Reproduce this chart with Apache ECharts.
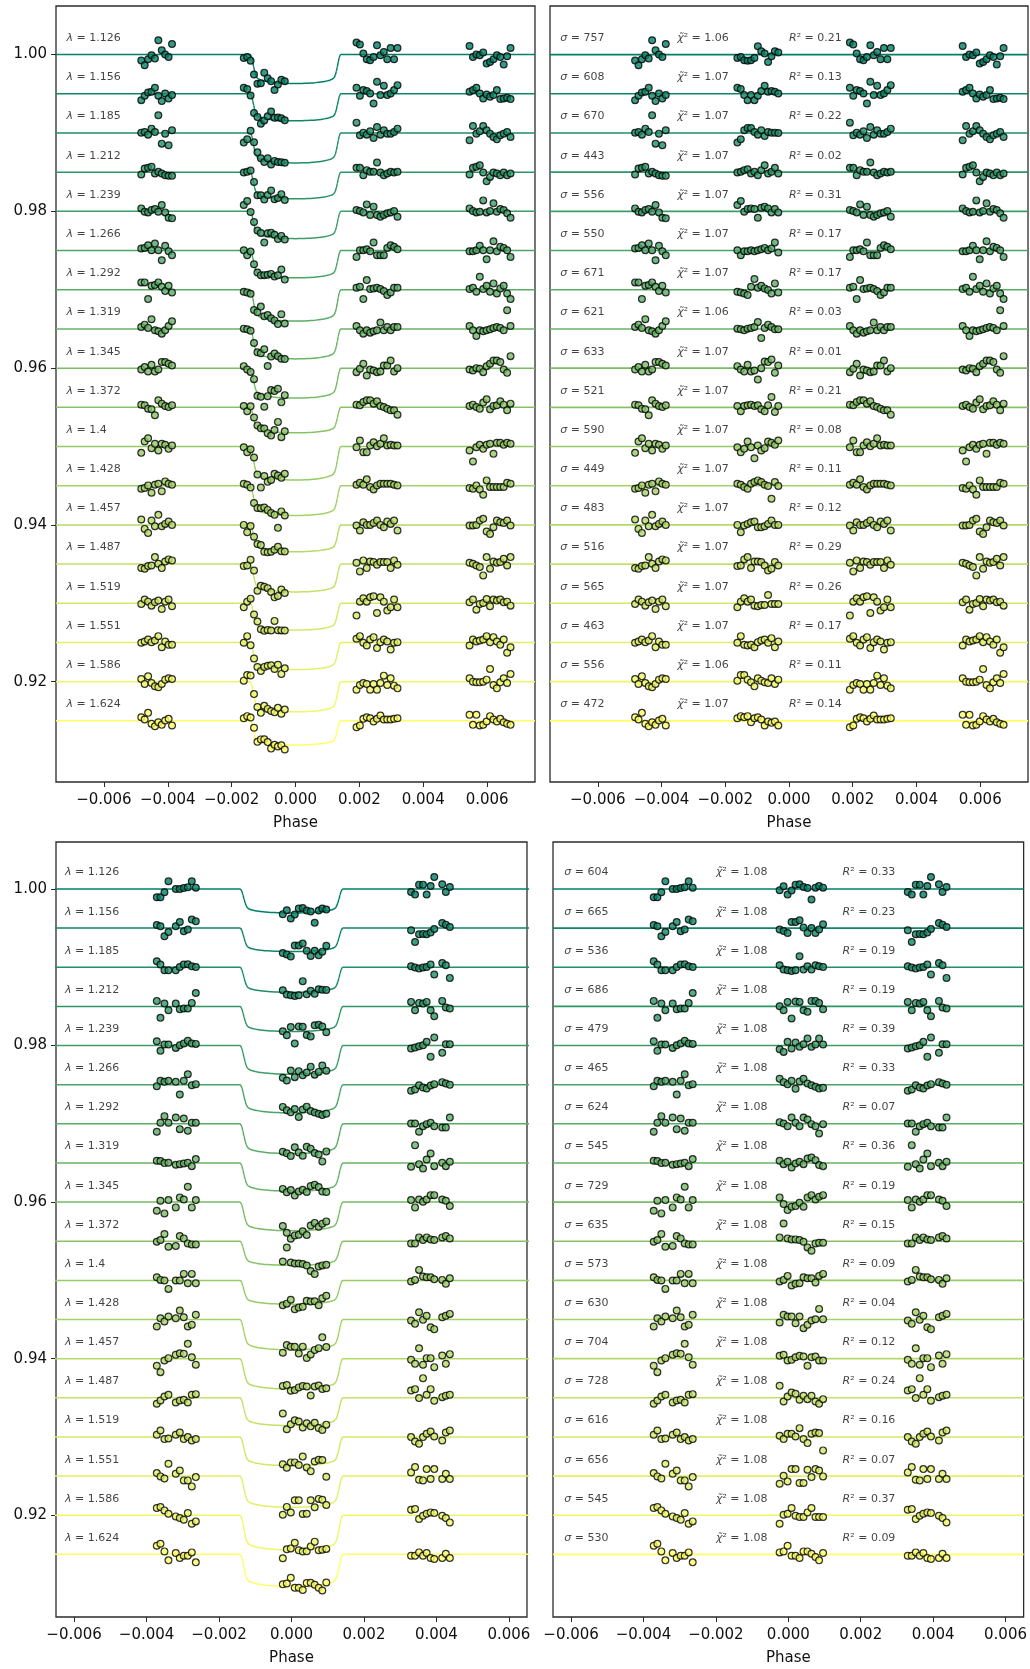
<!DOCTYPE html>
<html>
<head>
<meta charset="utf-8">
<script src="https://cdn.jsdelivr.net/npm/echarts@6/dist/echarts.min.js"></script>
<style>
html, body { margin: 0; padding: 0; background: #ffffff; }
#chart { width: 1030px; height: 1669px; }
</style>
</head>
<body>
<div id="chart"></div>
<script>
// ---- spectroscopic channels ----
const wavelengths = ['1.126', '1.156', '1.185', '1.212', '1.239', '1.266', '1.292', '1.319', '1.345',
  '1.372', '1.4', '1.428', '1.457', '1.487', '1.519', '1.551', '1.586', '1.624'];
const rowOffsets = [1.000, 0.995, 0.990, 0.985, 0.980, 0.975, 0.970, 0.965, 0.960,
  0.955, 0.950, 0.945, 0.940, 0.935, 0.930, 0.925, 0.920, 0.915];

// ---- visit 1 fit statistics ----
const sigma1 = [757, 608, 670, 443, 556, 550, 671, 621, 633, 521, 590, 449, 483, 516, 565, 463, 556, 472];
const chi1 = ['1.06', '1.07', '1.07', '1.07', '1.07', '1.07', '1.07', '1.06', '1.07', '1.07', '1.07', '1.07',
  '1.07', '1.07', '1.07', '1.07', '1.06', '1.07'];
const r2v1 = ['0.21', '0.13', '0.22', '0.02', '0.31', '0.17', '0.17', '0.03', '0.01', '0.21', '0.08', '0.11',
  '0.12', '0.29', '0.26', '0.17', '0.11', '0.14'];
// transit depth of each channel (visit 1)
const depth1 = [0.00369, 0.00344, 0.00382, 0.00340, 0.00348, 0.00348, 0.00400, 0.00382, 0.00382,
  0.00325, 0.00427, 0.00380, 0.00342, 0.00355, 0.00342, 0.00346, 0.00385, 0.00308];

// ---- visit 2 fit statistics ----
const sigma2 = [604, 665, 536, 686, 479, 465, 624, 545, 729, 635, 573, 630, 704, 728, 616, 656, 545, 530];
const chi2 = ['1.08', '1.08', '1.08', '1.08', '1.08', '1.08', '1.08', '1.08', '1.08', '1.08', '1.08', '1.08',
  '1.08', '1.08', '1.08', '1.08', '1.08', '1.08'];
const r2v2 = ['0.33', '0.23', '0.19', '0.19', '0.39', '0.33', '0.07', '0.36', '0.19', '0.15', '0.09', '0.04',
  '0.12', '0.24', '0.16', '0.07', '0.37', '0.09'];
const depth2 = [0.00306, 0.00300, 0.00320, 0.00320, 0.00366, 0.00360, 0.00380, 0.00360, 0.00366,
  0.00308, 0.00304, 0.00387, 0.00387, 0.00355, 0.00366, 0.00398, 0.00443, 0.00410];

// ---- normalised transit profile (fraction of depth vs phase) ----
const modelPhase = [-0.0075, -0.00142, -0.0014, -0.00137, -0.00134, -0.00131, -0.00128, -0.00125, -0.00122,
  -0.00118, -0.00112, -0.00104, -0.00095, -0.00085, -0.00072, -0.00056, -0.00038, -0.0002, 0,
  0.0002, 0.00038, 0.00056, 0.00072, 0.00085, 0.00095, 0.00104, 0.00112, 0.00118, 0.00122,
  0.00125, 0.00128, 0.00131, 0.00134, 0.00137, 0.0014, 0.00142, 0.0075];
const modelShape = [0, 0, 0.02, 0.1, 0.25, 0.42, 0.58, 0.7, 0.78, 0.83, 0.865, 0.895, 0.92, 0.94, 0.96,
  0.978, 0.99, 0.998, 1, 0.998, 0.99, 0.978, 0.96, 0.94, 0.92, 0.895, 0.865, 0.83, 0.78, 0.7, 0.58,
  0.42, 0.25, 0.1, 0.02, 0, 0];

// ---- exposure phases, visit 1 (four orbits) ----
const phase1A = [-0.00483, -0.004723, -0.004616, -0.004509, -0.004402, -0.004295, -0.004188, -0.004081, -0.003974, -0.003867];
const phase1B = [-0.00162, -0.001513, -0.001406, -0.001299, -0.001192, -0.001085, -0.000978, -0.000871, -0.000764,
  -0.000657, -0.00055, -0.000443, -0.000336];
const phase1C = [0.00191, 0.002017, 0.002124, 0.002231, 0.002338, 0.002445, 0.002552, 0.002659, 0.002766,
  0.002873, 0.00298, 0.003087, 0.003194];
const phase1D = [0.00545, 0.005557, 0.005664, 0.005771, 0.005878, 0.005985, 0.006092, 0.006199, 0.006306,
  0.006413, 0.00652, 0.006627, 0.006734];

// ---- exposure phases, visit 2 (three orbits) ----
const phase2A = [-0.003718, -0.003617, -0.003507, -0.003396, -0.003194, -0.003083, -0.002973, -0.002862, -0.002752, -0.002641];
const phase2B = [-0.00024, -0.00013, -0.00002, 0.00009, 0.0002, 0.00031, 0.00042, 0.00053, 0.00064, 0.00075, 0.00085, 0.00096];
const phase2C = [0.0033, 0.00341, 0.00352, 0.00363, 0.00373, 0.00384, 0.00394, 0.00416, 0.00426, 0.00437];

// ---- residuals in ppm, visit 1 ----
const res1A = [
  [-765, -1360, -600, -85, -510, 1830, 550, 0, -300, 1360],
  [-810, -255, 170, 255, 765, -255, -935, 40, -600, -170],
  [40, 130, -210, 550, 130, 2250, -1360, -85, -1570, 340],
  [-300, 470, 550, 680, -170, 40, -170, -380, -470, -470],
  [380, -40, -130, 170, 300, -40, 810, -130, -810, -890],
  [255, 340, 680, 40, 890, 40, -1230, 600, -85, -600],
  [940, 940, -1190, 510, 600, 940, 380, -170, 510, -340],
  [255, 550, 130, 1230, -170, -300, -600, -170, 380, 980],
  [-170, 130, -425, 425, -425, -170, 770, 770, 550, 340],
  [340, 255, -170, -255, -1020, 890, 470, 170, 40, 255],
  [-810, 640, 1060, -210, 340, -510, 340, 210, -300, 130],
  [-380, -300, 40, -890, 130, 255, -720, 550, 255, 130],
  [680, -510, -1020, 550, -170, 1280, -170, 130, 425, 0],
  [-510, -600, -255, -170, 890, 40, -510, 340, 600, 470],
  [-85, 470, 210, -300, 130, 340, -720, 210, 470, -380],
  [-40, 130, 380, 40, 255, 810, -600, 130, -300, -300],
  [340, -300, 680, -170, -600, -720, -300, 255, 425, 340],
  [470, 170, 1020, -380, -680, -170, -510, 40, 255, -600]
];
const res1B = [
  [-430, -300, -720, -770, -720, -430, 1060, 430, 130, -940, -210, 430, 260],
  [770, 600, -170, -810, -170, -810, -255, 340, 1020, 255, 340, 255, 40],
  [-1230, -810, 340, 640, 640, 130, -210, 340, -380, 130, 40, 40, 0],
  [-40, 40, 255, 380, -170, 40, -380, 255, 890, -170, 40, 550, -170],
  [810, 1320, -40, 300, 380, 300, -810, 470, 600, 380, -130, 300, -130],
  [40, -600, -85, -85, 40, -85, 40, 170, 340, 40, 255, 1020, -255],
  [-255, -340, -470, -680, 380, 1360, 255, 510, 170, -40, -470, 810, -340],
  [40, -40, -170, 40, 130, 255, 890, -1150, 130, 550, 255, -40, -40],
  [255, -170, -425, 425, -425, -300, -1445, 0, 850, 770, 1100, -600, 340],
  [170, -510, 170, 255, 340, 170, 255, -255, -510, 255, 1320, -600, 170],
  [-85, -720, -300, 640, -85, -1490, 130, -510, -210, 640, 470, 210, 770],
  [255, 130, -170, -380, 255, 470, 680, 470, 130, -40, -1660, 470, -40],
  [0, -935, -85, 130, 340, 425, -300, -300, -170, 130, 550, 0, 0],
  [-255, -170, 600, 890, -510, 340, 340, 255, -170, -810, -600, 255, -170],
  [-510, 210, 640, 210, 470, -300, -380, -210, -210, 1060, -85, -85, -85],
  [-40, 810, -300, -380, -300, -600, 40, 255, 380, -40, 550, -600, 130],
  [130, 850, 850, 255, -85, -600, 425, 130, -85, -170, 425, -300, 255],
  [340, 600, 470, 600, -170, 340, 470, 170, -600, -85, -255, -85, -600]
];
const res1C = [
  [1530, 1280, 130, -600, -720, -300, 1190, -85, 340, -600, 850, -600, 850],
  [770, -255, 470, 340, 40, -1230, 1530, -170, 1020, -170, 40, 470, 1100],
  [1320, -300, 40, -210, 210, -640, 770, -210, 340, -85, -85, 130, 550],
  [550, 550, -380, 255, 40, 40, 1230, -40, -380, -170, 40, -40, 40],
  [170, 40, -130, 890, -470, 600, -470, -680, -470, -255, -130, 40, -680],
  [-810, 40, 40, 170, -85, 1020, -600, -600, -600, 340, 680, 470, 170],
  [255, 380, -1190, 1230, 85, 170, 255, 85, -170, -680, -340, 255, 255],
  [380, -170, -600, -170, -470, -300, -170, 810, -170, 255, -170, 255, 255],
  [-510, -85, 550, -935, -170, -300, -510, -425, 340, 340, 980, -425, 0],
  [340, 255, 680, 890, 890, 470, 770, 170, 40, -170, -380, -380, -935],
  [-85, 770, -720, -720, 130, 550, 40, 340, 1060, 130, 210, 130, 130],
  [130, 380, 130, 810, -170, -470, 40, 255, 255, 255, 255, 130, 40],
  [-85, -720, 340, 0, 0, 255, 550, 0, -300, 425, 130, 550, -720],
  [170, -935, 470, -510, 340, 255, -85, 255, 255, 255, -510, 470, -85],
  [-1570, 210, 640, 210, 770, 890, -1230, 770, 210, -935, -510, 470, -510],
  [470, 810, -40, -380, 380, 680, -720, 40, 380, 130, -890, -40, 40],
  [-1020, -425, -170, -300, -1020, -300, -1020, -170, 770, -425, 425, -510, -850],
  [-810, -600, 255, 470, 340, -85, 255, 680, 170, 170, 170, 255, 340]
];
const res1D = [
  [1100, -300, 0, -85, 255, -1150, -935, -600, -85, -300, -1275, -210, 850],
  [255, 470, 770, 40, -600, -85, -380, -170, 470, -680, -600, -510, -680],
  [-935, 890, -85, 210, 890, 340, -85, -510, -810, -300, -85, 130, -510],
  [-300, 550, 680, 890, -40, -1150, -600, -40, -170, -380, -40, -380, -170],
  [380, 40, -130, -40, 1400, -130, 40, 1020, -40, 300, 170, -255, -810],
  [-85, -85, 40, 600, 40, -1100, 40, 1190, -85, 470, 340, 40, -810],
  [85, 255, -255, 1660, 85, 510, -255, 810, -470, 170, 510, -470, -1190],
  [380, -170, -890, -170, -300, -170, -40, 130, 255, 130, -170, 2380, 380],
  [-170, -300, 0, -85, -510, 255, 550, 980, 980, 770, -170, -600, 1530],
  [170, 340, 40, -170, 600, 1020, -255, 170, 255, 770, 340, -380, 470],
  [-510, -1910, -85, 210, -300, 210, 340, -935, 470, 470, 210, 470, 340],
  [-300, -380, 40, -470, -1150, 680, -170, -170, -170, -170, -170, 380, 255],
  [-85, -85, 0, 550, 770, -850, -1150, -300, 550, 340, 255, 550, -85],
  [170, 40, -170, -380, -1445, 890, -600, 340, 170, 255, 680, -170, 890],
  [130, 470, -810, -85, 40, 550, -380, 470, 340, 470, 130, 210, -300],
  [-380, 380, 130, 255, 380, 810, 40, 680, 130, -300, 380, -1320, -600],
  [425, 0, -85, -85, 0, 255, 1615, -425, -850, -85, 425, -170, 980],
  [770, -510, 770, -600, -510, -85, 600, 170, -85, 255, -170, -380, -510]
];

// ---- residuals in ppm, visit 2 ----
const res2A = [
  [-1060, -1060, -425, 980, 0, 0, 130, 210, 980, 170],
  [400, 235, -1040, -490, 235, 785, -400, -190, 1085, 870],
  [765, 340, -380, -380, -380, 40, 340, 380, 130, 40],
  [700, -1465, 360, -490, 360, -360, -275, -275, 445, 1720],
  [550, -680, 130, 130, -300, 40, 255, 600, 255, 210],
  [-190, 490, 360, 490, 360, -1255, 490, 1340, -65, 65],
  [-1020, 130, 980, 130, 810, -680, 680, -890, 130, 130],
  [275, 235, -20, 20, -235, -150, -65, 20, -405, 490],
  [-1105, 170, -1445, 255, -680, 600, 340, 1955, -680, 255],
  [-65, 150, 915, -700, -615, 660, 360, -275, -405, -405],
  [405, 65, -20, -1085, -20, -20, 830, -360, 830, -360],
  [-890, 170, -255, 380, 170, 1150, 300, -890, -680, 600],
  [-915, -1720, -235, 65, 490, 700, 615, 1890, 190, -785],
  [-765, -340, 170, 380, -600, -340, -255, -600, 380, 470],
  [275, 830, -275, -190, 275, 575, -275, -20, -445, -275],
  [380, -40, -300, 1570, 300, 720, -550, -550, -1320, -130],
  [915, 1040, 615, 190, -150, -360, -575, 275, -1085, -785],
  [1105, 1360, 380, -765, 170, -470, -170, -170, 255, -1020]
];
const res2B = [
  [-170, 340, -720, -210, 550, 600, 255, 130, -1360, 170, 380, 170],
  [-190, -360, -615, 785, 785, 1000, 65, -615, 20, -615, -190, 490],
  [255, -300, -380, -470, -380, 1400, -300, 130, -300, 255, 130, 40],
  [20, -490, 575, -1550, 615, 575, -490, -700, 700, 700, 445, -360],
  [-470, -810, 470, -380, 380, -170, 170, 890, -170, 130, 890, 130],
  [745, 320, 65, 490, -530, 405, 745, 150, -65, -275, -490, -405],
  [210, 40, -300, 810, 130, -300, 810, 550, -40, -300, -1230, -40],
  [275, -150, 150, -575, -65, 150, -150, 575, 700, 360, -275, -405],
  [600, -255, -1020, -600, -510, -85, -600, 600, 890, 340, 680, 890],
  [490, 2275, 360, 235, 235, 150, -65, -785, -1210, -275, -190, -190],
  [-150, 65, 575, -660, -445, -360, 405, 275, 275, -275, 575, 830],
  [-380, 600, 380, 380, -470, 380, -1100, -680, -130, 40, 1360, 40],
  [360, 490, -235, -150, 190, 360, 275, -915, 190, 275, -235, -235],
  [1530, -470, 170, 680, 510, -255, 255, -170, 255, -470, -765, -170],
  [150, -275, 405, 405, 65, 1125, -275, -785, 405, 575, 490, -1720],
  [-980, 40, -680, 890, 890, -890, -890, 810, -130, 890, 720, -40],
  [-1085, 65, 190, 915, -65, -235, -235, 360, 915, -235, -235, -235],
  [255, 380, 1105, -170, -170, -470, 380, 380, 85, -340, -765, 170]
];
const res2C = [
  [-380, -720, 550, 550, -720, 380, 1530, 600, -380, 255],
  [-275, -1765, -785, -740, -785, -575, -105, 660, 445, 150],
  [130, -40, -170, -40, 40, 340, -935, 550, 255, -1360],
  [575, -490, 445, 360, 575, -490, -1255, 700, -150, -275],
  [-380, -255, -85, 40, 470, -1445, 1020, -935, 170, 170],
  [-785, -615, -65, -360, -490, -105, 65, 320, 150, -20],
  [40, 40, -1020, -300, -40, 130, -300, -470, -470, 810],
  [-490, 2275, -150, -700, 445, 1210, -405, 20, -405, 150],
  [255, -680, 340, 40, 340, 890, 890, 340, 170, -510],
  [-275, -275, 490, 150, 490, 235, 150, 490, 660, 360],
  [-150, 65, 1340, 490, 405, 405, 150, 65, -445, 275],
  [-130, -550, 935, -40, 470, -980, -1230, 300, 470, 720],
  [-150, -660, 1340, -785, 65, 65, -1085, 405, -660, 575],
  [935, 1105, -40, 2510, 380, 1105, -380, 85, 255, 380],
  [-20, -575, -870, -20, 405, 700, 65, -445, 575, 830],
  [470, 1150, -470, -550, 890, -380, 890, -380, 300, -380],
  [700, 785, -490, -65, 190, 360, 275, -65, -360, -915],
  [-170, -170, 255, -170, 170, -470, -600, -470, 85, -470]
];

// ---- axis ticks ----
const phaseTicks = [-0.006, -0.004, -0.002, 0.000, 0.002, 0.004, 0.006];
const fluxTicks = [0.92, 0.94, 0.96, 0.98, 1.00];

const FONT = 'DejaVu Sans';
const N = wavelengths.length;

// "summer" colour ramp, dark green at the bluest channel to yellow at the reddest
function rowColor(i) {
  const t = i / (N - 1);
  const r = Math.round(255 * t);
  const g = Math.round(255 * (0.5 + 0.5 * t));
  return 'rgb(' + r + ',' + g + ',102)';
}

// transit profile evaluated at a given phase
function profileAt(p) {
  for (let k = 0; k < modelPhase.length - 1; k++) {
    if (p >= modelPhase[k] && p <= modelPhase[k + 1]) {
      const f = (p - modelPhase[k]) / (modelPhase[k + 1] - modelPhase[k]);
      return modelShape[k] + f * (modelShape[k + 1] - modelShape[k]);
    }
  }
  return 0;
}

function phaseLabel(v) {
  const s = Math.abs(v).toFixed(3);
  return v < -1e-9 ? '\u2212' + s : s;
}

const grids = [
  { left: 56, top: 6, width: 479, height: 776 },
  { left: 550, top: 6, width: 478, height: 776 },
  { left: 56, top: 842, width: 471, height: 775 },
  { left: 553, top: 842, width: 471, height: 775 }
].map(g => Object.assign(g, { show: true, borderColor: '#2b2b2b', borderWidth: 1.3, backgroundColor: '#fff' }));

const xRange = [[-0.0075, 0.0075], [-0.0075, 0.0075], [-0.0065, 0.0065], [-0.0065, 0.0065]];
const yRange = [[0.9072, 1.0062], [0.9072, 1.0062], [0.9070, 1.0060], [0.9070, 1.0060]];

const xAxes = xRange.map((r, gi) => ({
  gridIndex: gi, type: 'value', min: r[0], max: r[1], position: 'bottom',
  axisLine: { show: false, onZero: false }, splitLine: { show: false },
  axisTick: { show: true, length: 5, inside: false, customValues: phaseTicks, lineStyle: { color: '#2b2b2b', width: 1 } },
  axisLabel: { customValues: phaseTicks, formatter: phaseLabel, fontSize: 15, fontFamily: FONT, color: '#111', margin: 11 },
  name: 'Phase', nameLocation: 'middle', nameGap: 34,
  nameTextStyle: { fontSize: 15, fontFamily: FONT, color: '#111' }
}));

const yAxes = yRange.map((r, gi) => {
  const left = (gi % 2 === 0);
  return {
    gridIndex: gi, type: 'value', min: r[0], max: r[1], position: 'left',
    axisLine: { show: false, onZero: false }, splitLine: { show: false },
    axisTick: { show: left, length: 5, customValues: fluxTicks, lineStyle: { color: '#2b2b2b', width: 1 } },
    axisLabel: { show: left, customValues: fluxTicks, formatter: v => v.toFixed(2), fontSize: 15, fontFamily: FONT, color: '#111', margin: 9 }
  };
});

const series = [];
const richStyles = {
  it: { fontStyle: 'italic', fontSize: 11, fontFamily: FONT, color: '#111' }
};

function addLabels(gi, items) {
  series.push({
    type: 'scatter', xAxisIndex: gi, yAxisIndex: gi, symbolSize: 0, silent: true, z: 5,
    data: items,
    label: {
      show: true, position: 'right', distance: 0,
      fontSize: 11, fontFamily: FONT, color: '#111',
      formatter: p => p.data[2], rich: richStyles
    }
  });
}

// one visit: light curves on the left grid, residuals on the right grid
function addVisit(gLeft, gRight, depth, phases, residuals, xmin, xmax, labelX, sigma, chi, r2) {
  const leftLabels = [], rightLabels = [];
  for (let i = 0; i < N; i++) {
    const off = rowOffsets[i];
    const col = rowColor(i);
    // fitted transit model
    series.push({
      type: 'line', xAxisIndex: gLeft, yAxisIndex: gLeft, showSymbol: false, silent: true, z: 2,
      smooth: 0.3, smoothMonotone: 'x',
      lineStyle: { color: col, width: 1.5 },
      data: modelPhase.map((p, k) => [p, off - depth[i] * modelShape[k]])
    });
    // observed points = model + residual
    const pts = [], resPts = [];
    phases.forEach((grp, g) => {
      grp.forEach((p, k) => {
        const r = residuals[g][i][k] * 1e-6;
        pts.push([p, off - depth[i] * profileAt(p) + r]);
        resPts.push([p, off + r]);
      });
    });
    series.push({
      type: 'scatter', xAxisIndex: gLeft, yAxisIndex: gLeft, symbolSize: 6.8, z: 3, silent: true,
      itemStyle: { color: col, borderColor: '#000', borderWidth: 1.2 }, data: pts
    });
    // zero line of the residuals
    series.push({
      type: 'line', xAxisIndex: gRight, yAxisIndex: gRight, showSymbol: false, silent: true, z: 2,
      lineStyle: { color: col, width: 1.6 },
      data: [[xmin, off], [xmax, off]]
    });
    series.push({
      type: 'scatter', xAxisIndex: gRight, yAxisIndex: gRight, symbolSize: 6.8, z: 3, silent: true,
      itemStyle: { color: col, borderColor: '#000', borderWidth: 1.2 }, data: resPts
    });
    const ly = off + 0.0021;
    leftLabels.push([labelX[0], ly, '{it|\u03bb} = ' + wavelengths[i]]);
    rightLabels.push([labelX[1], ly, '{it|\u03c3} = ' + sigma[i]]);
    rightLabels.push([labelX[2], ly, '{it|\u03c7\u0303}\u00b2 = ' + chi[i]]);
    rightLabels.push([labelX[3], ly, '{it|R}\u00b2 = ' + r2[i]]);
  }
  addLabels(gLeft, leftLabels);
  addLabels(gRight, rightLabels);
}

addVisit(0, 1, depth1, [phase1A, phase1B, phase1C, phase1D], [res1A, res1B, res1C, res1D],
  -0.0075, 0.0075, [-0.00717, -0.00718, -0.00351, 0.0], sigma1, chi1, r2v1);
addVisit(2, 3, depth2, [phase2A, phase2B, phase2C], [res2A, res2B, res2C],
  -0.0065, 0.0065, [-0.00625, -0.00619, -0.0020, 0.0015], sigma2, chi2, r2v2);

const chart = echarts.init(document.getElementById('chart'), null, { renderer: 'canvas' });
chart.setOption({
  animation: false,
  backgroundColor: '#ffffff',
  textStyle: { fontFamily: FONT },
  grid: grids,
  xAxis: xAxes,
  yAxis: yAxes,
  series: series
});
</script>
</body>
</html>
